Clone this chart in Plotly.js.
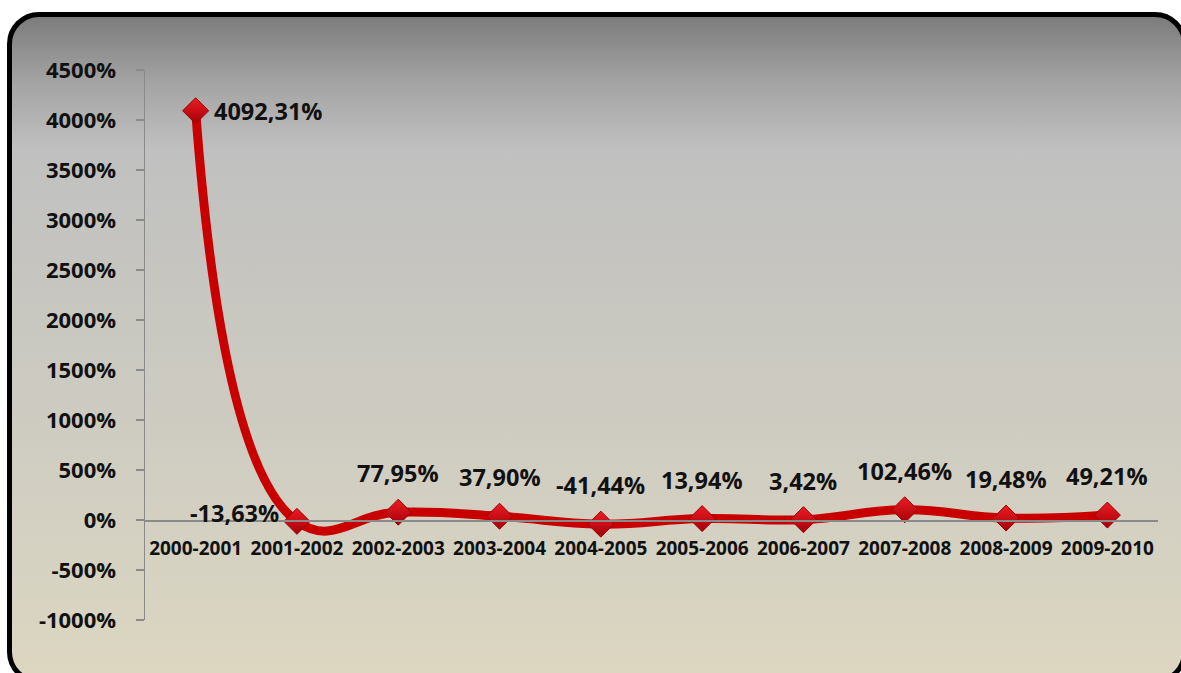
<!DOCTYPE html>
<html>
<head>
<meta charset="utf-8">
<script src="https://cdn.plot.ly/plotly-3.0.1.min.js"></script>
<style>
  html, body { margin:0; padding:0; width:1181px; height:673px; overflow:hidden; background:#ffffff; }
  #frame {
    position:absolute; left:7px; top:12px; width:1180px; height:672px;
    box-sizing:border-box; border:5px solid #000; border-radius:32px;
    background: linear-gradient(to bottom, #7c7c7c 0%, #a4a4a4 10%, #c0c0c0 20%, #c8c7c0 45%, #d3d0c2 75%, #ddd7c1 100%);
  }
  #chart { position:absolute; left:0; top:0; width:1181px; height:673px; }
</style>
</head>
<body>
<div id="frame"></div>
<div id="chart"></div>
<script>
const categories = ["2000-2001","2001-2002","2002-2003","2003-2004","2004-2005","2005-2006","2006-2007","2007-2008","2008-2009","2009-2010"];
const values = [4092.31, -13.63, 77.95, 37.90, -41.44, 13.94, 3.42, 102.46, 19.48, 49.21];
const valueLabels = ["4092,31%","-13,63%","77,95%","37,90%","-41,44%","13,94%","3,42%","102,46%","19,48%","49,21%"];
const yTickVals = [-1000,-500,0,500,1000,1500,2000,2500,3000,3500,4000,4500];
const yTickLabels = ["-1000%","-500%","0%","500%","1000%","1500%","2000%","2500%","3000%","3500%","4000%","4500%"];

const FONT = "Open Sans, Lato, sans-serif";

// label placement styles per point
const labelStyle = values.map((v, i) => {
  if (i === 0) return {xanchor:'left', yanchor:'middle', xshift:16, yshift:0};
  if (i === 1) return {xanchor:'right', yanchor:'middle', xshift:-16, yshift:8};
  return {xanchor:'center', yanchor:'bottom', xshift:0, yshift:21};
});

const annotations = categories.map((c, i) => Object.assign({
  x: c, y: values[i], xref:'x', yref:'y', text: valueLabels[i], showarrow:false,
  font:{family:FONT, size:23.5, color:'#111', weight:'bold'}
}, labelStyle[i]));

const trace = {
  type:'scatter', mode:'lines+markers',
  x: categories, y: values,
  line:{color:'#c80000', width:9, shape:'spline', smoothing:1.3},
  marker:{symbol:'diamond', size:20, color:'#ee1c24',
          gradient:{type:'vertical', color:'#a30008'},
          line:{color:'#9a0000', width:1}},
  hoverinfo:'skip', cliponaxis:false
};

const layout = {
  width:1181, height:673,
  margin:{l:145, r:23, t:70, b:53, pad:0},
  paper_bgcolor:'rgba(0,0,0,0)', plot_bgcolor:'rgba(0,0,0,0)',
  showlegend:false,
  xaxis:{
    type:'category', range:[-0.5, 9.5], anchor:'free', position:1000/5500,
    showline:true, linecolor:'#8a8a8a', linewidth:1.5,
    showgrid:false, zeroline:false, ticks:'',
    tickfont:{family:FONT, size:19, color:'#111', weight:'bold'},
    ticklabelstandoff:11
  },
  yaxis:{
    range:[-1000, 4500], tickvals:yTickVals, ticktext:yTickLabels,
    showline:true, linecolor:'#8a8a8a', linewidth:1.5,
    ticks:'outside', ticklen:8, tickcolor:'#8a8a8a', tickwidth:1.5,
    showgrid:false, zeroline:false,
    tickfont:{family:FONT, size:22, color:'#111', weight:'bold'},
    ticklabelstandoff:15
  },
  annotations: annotations
};

Plotly.newPlot('chart', [trace], layout, {displayModeBar:false, staticPlot:true});
</script>
</body>
</html>
